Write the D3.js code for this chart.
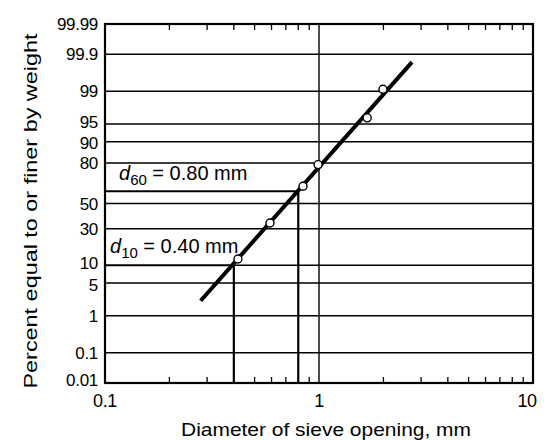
<!DOCTYPE html>
<html><head><meta charset="utf-8">
<script src="https://cdn.jsdelivr.net/npm/d3@7"></script>
<style>body{margin:0;background:#fff}svg{display:block}text{font-family:"Liberation Sans",Arial,Helvetica,sans-serif;fill:#000}</style>
</head><body>
<svg id="c" width="552" height="440"></svg>
<script>
// ---- data ----
const yTickValues = [0.01, 0.1, 1, 5, 10, 30, 50, 80, 90, 95, 99, 99.9, 99.99];
const yTickLabels = ["0.01", "0.1", "1", "5", "10", "30", "50", "80", "90", "95", "99", "99.9", "99.99"];
const xTickValues = [0.1, 1, 10];
const xTickLabels = ["0.1", "1", "10"];
const sieveSize = [0.418, 0.59, 0.842, 0.99, 1.68, 1.99];      // mm
const percentFiner = [12.5, 34.3, 64, 79, 96.2, 99.1];          // %
const fitX = [0.28, 2.72];
const fitP = [2.2, 99.83];
const d10 = {size: 0.40, p: 10, label: "10", text: " = 0.40 mm"};
const d60 = {size: 0.80, p: 60, label: "60", text: " = 0.80 mm"};

// inverse normal CDF (Acklam)
function probit(p){
  const a=[-3.969683028665376e+01,2.209460984245205e+02,-2.759285104469687e+02,1.383577518672690e+02,-3.066479806614716e+01,2.506628277459239e+00];
  const b=[-5.447609879822406e+01,1.615858368580409e+02,-1.556989798598866e+02,6.680131188771972e+01,-1.328068155288572e+01];
  const c=[-7.784894002430293e-03,-3.223964580411365e-01,-2.400758277161838e+00,-2.549732539343734e+00,4.374664141464968e+00,2.938163982698783e+00];
  const d=[7.784695709041462e-03,3.224671290700398e-01,2.445134137142996e+00,3.754408661907416e+00];
  const pl=0.02425, ph=1-pl; let q,r;
  if(p<pl){q=Math.sqrt(-2*Math.log(p));return (((((c[0]*q+c[1])*q+c[2])*q+c[3])*q+c[4])*q+c[5])/((((d[0]*q+d[1])*q+d[2])*q+d[3])*q+1);}
  if(p<=ph){q=p-0.5;r=q*q;return (((((a[0]*r+a[1])*r+a[2])*r+a[3])*r+a[4])*r+a[5])*q/(((((b[0]*r+b[1])*r+b[2])*r+b[3])*r+b[4])*r+1);}
  q=Math.sqrt(-2*Math.log(1-p));return -(((((c[0]*q+c[1])*q+c[2])*q+c[3])*q+c[4])*q+c[5])/((((d[0]*q+d[1])*q+d[2])*q+d[3])*q+1);
}

const L=105, R=533, T=24, B=383;
const svg = d3.select("#c");
const x = d3.scaleLog().domain([0.1,10]).range([L,R]);
const zScale = d3.scaleLinear().domain([probit(0.0001), probit(0.9999)]).range([B,T]);
const y = p => zScale(probit(p/100));

// horizontal grid lines
svg.append("g").selectAll("line").data(yTickValues.filter(v=>v>0.01 && v<99.99)).join("line")
  .attr("x1",L).attr("x2",R).attr("y1",d=>y(d)).attr("y2",d=>y(d))
  .attr("stroke","#000").attr("stroke-width",1.5);
// vertical grid at 1
svg.append("line").attr("x1",x(1)).attr("x2",x(1)).attr("y1",T).attr("y2",B).attr("stroke","#000").attr("stroke-width",1.4);

// minor ticks top and bottom
const minor = [];
for (const dec of [0.1,1]) for (let k=2;k<=9;k++) minor.push(dec*k);
svg.append("g").selectAll("line").data(minor).join("line")
  .attr("x1",d=>x(d)).attr("x2",d=>x(d)).attr("y1",B).attr("y2",B-6).attr("stroke","#000").attr("stroke-width",1.3);
svg.append("g").selectAll("line").data(minor).join("line")
  .attr("x1",d=>x(d)).attr("x2",d=>x(d)).attr("y1",T).attr("y2",T+6).attr("stroke","#000").attr("stroke-width",1.3);

// frame
svg.append("rect").attr("x",L).attr("y",T).attr("width",R-L).attr("height",B-T)
  .attr("fill","none").attr("stroke","#000").attr("stroke-width",2.2);

// d60 / d10 construction lines
for (const dd of [d60, d10]) {
  svg.append("line").attr("x1",L).attr("x2",x(dd.size)).attr("y1",y(dd.p)).attr("y2",y(dd.p)).attr("stroke","#000").attr("stroke-width",1.8);
  svg.append("line").attr("x1",x(dd.size)).attr("x2",x(dd.size)).attr("y1",y(dd.p)).attr("y2",B).attr("stroke","#000").attr("stroke-width",2.2);
}

// fitted line
svg.append("line").attr("x1",x(fitX[0])).attr("y1",y(fitP[0])).attr("x2",x(fitX[1])).attr("y2",y(fitP[1]))
  .attr("stroke","#000").attr("stroke-width",4);

// data points
svg.append("g").selectAll("circle").data(sieveSize).join("circle")
  .attr("cx",d=>x(d)).attr("cy",(d,i)=>y(percentFiner[i])).attr("r",4)
  .attr("fill","#fff").attr("stroke","#000").attr("stroke-width",1.4);

// y tick labels (small nudges where labels crowd, as in the reference)
const nudge = {95:-2.5, 90:1.5, 10:-2.5, 5:2, 0.01:-3};
svg.append("g").selectAll("text").data(yTickValues).join("text")
  .attr("x",98).attr("y",d=>y(d)+(nudge[d]||0)).attr("dy","0.36em").attr("text-anchor","end")
  .attr("font-size",17).attr("letter-spacing",-0.3).text((d,i)=>yTickLabels[i]);

// x tick labels
svg.append("g").selectAll("text").data(xTickValues).join("text")
  .attr("x",(d,i)=>x(d) + (i===2?-6:0)).attr("y",407).attr("text-anchor","middle")
  .attr("font-size",18).attr("letter-spacing",-0.4).text((d,i)=>xTickLabels[i]);

// axis titles
svg.append("text").attr("x",326).attr("y",436).attr("text-anchor","middle").attr("font-size",19)
  .attr("textLength",290).attr("lengthAdjust","spacingAndGlyphs")
  .text("Diameter of sieve opening, mm");
svg.append("text").attr("transform","translate(37,211) rotate(-90)").attr("text-anchor","middle").attr("font-size",19)
  .attr("textLength",355).attr("lengthAdjust","spacingAndGlyphs")
  .text("Percent equal to or finer by weight");

// annotations
function annot(dd, ax, ay){
  const t = svg.append("text").attr("x",ax).attr("y",ay).attr("font-size",20).attr("letter-spacing",0);
  t.append("tspan").attr("font-style","italic").text("d");
  t.append("tspan").attr("font-size",15).attr("dy",5).text(dd.label);
  t.append("tspan").attr("dy",-5).text(dd.text);
}
annot(d60, 119, 180);
annot(d10, 110, 253);
</script>
</body></html>
